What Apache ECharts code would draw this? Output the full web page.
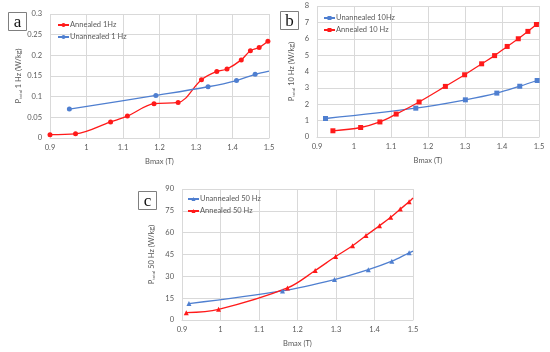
<!DOCTYPE html>
<html><head><meta charset="utf-8">
<script src="https://cdn.jsdelivr.net/npm/echarts@6/dist/echarts.min.js"></script>
<style>html,body{margin:0;padding:0;background:#fff}#c{width:550px;height:352px}</style>
</head><body><div id="c"></div>
<script>
// Panel a: 1 Hz
const aAnnealed = [[0.9,0.008],[0.97,0.01],[1.066,0.039],[1.112,0.053],[1.185,0.083],[1.251,0.086],[1.315,0.141],[1.357,0.161],[1.385,0.167],[1.424,0.189],[1.449,0.211],[1.473,0.219],[1.497,0.234]];
const aUnannealed = [[0.953,0.07],[1.19,0.103],[1.333,0.124],[1.411,0.139],[1.462,0.154],[1.5,0.162]];
// Panel b: 10 Hz
const bUnannealed = [[0.923,1.13],[1.167,1.76],[1.301,2.27],[1.386,2.68],[1.448,3.1],[1.495,3.45]];
const bAnnealed = [[0.943,0.38],[1.018,0.58],[1.07,0.92],[1.114,1.4],[1.176,2.14],[1.247,3.09],[1.299,3.8],[1.345,4.47],[1.38,4.97],[1.414,5.53],[1.444,6.0],[1.47,6.45],[1.493,6.87],[1.5,7.0]];
// Panel c: 50 Hz
const cUnannealed = [[0.918,11.3],[1.161,20.0],[1.296,27.8],[1.384,34.6],[1.445,40.4],[1.49,46.2],[1.5,47.3]];
const cAnnealed = [[0.911,5.0],[0.995,7.3],[1.174,22.0],[1.246,34.0],[1.299,43.6],[1.343,51.0],[1.378,58.0],[1.413,64.8],[1.442,70.6],[1.467,76.2],[1.49,81.2],[1.5,83.8]];
// Axis ticks
const xTicks = {min:0.9, max:1.5, interval:0.1};
const yTicksA = {min:0, max:0.3, interval:0.05};
const yTicksB = {min:0, max:8, interval:1};
const yTicksC = {min:0, max:90, interval:15};
const names = {
  aA:'Annealed 1Hz', aU:'Unannealed 1 Hz',
  bU:'Unannealed 10Hz', bA:'Annealed 10 Hz',
  cU:'Unannealed 50 Hz', cA:'Annealed 50 Hz'
};
const yTitles = ['1 Hz (W/kg)','10 Hz (W/kg)','50 Hz (W/kg)'];

const RED='#ff1a1a', BLUE='#4f7fd0', TXT='#595959', GRID='#d9d9d9';
const FONT='Lato';
const FS=7.5;
const chart = echarts.init(document.getElementById('c'));

function xAx(i){
  return {type:'value', gridIndex:i, min:xTicks.min, max:xTicks.max, interval:xTicks.interval,
    name:'Bmax (T)', nameLocation:'middle', nameGap:20,
    nameTextStyle:{color:TXT,fontSize:FS,fontFamily:FONT},
    axisLine:{show:true,lineStyle:{color:GRID}}, axisTick:{show:false},
    axisLabel:{color:TXT,fontSize:FS,fontFamily:FONT,margin:6,formatter:v=>String(+v.toFixed(1))},
    splitLine:{show:true,lineStyle:{color:GRID,width:1}}};
}
function yAx(i,t,title,dec,gap){
  return {type:'value', gridIndex:i, min:t.min, max:t.max, interval:t.interval,
    name:'P{s|total} '+title, nameLocation:'middle', nameRotate:90, nameGap:gap,
    nameTextStyle:{color:TXT,fontSize:FS,fontFamily:FONT,rich:{s:{fontSize:4.5,color:TXT,fontFamily:FONT,padding:[4,0,0,0]}}},
    axisLine:{show:false}, axisTick:{show:false},
    axisLabel:{color:TXT,fontSize:FS,fontFamily:FONT,margin:8,formatter:v=>String(+v.toFixed(dec))},
    splitLine:{show:true,lineStyle:{color:GRID,width:1}}};
}
function ser(name,data,color,sym,xi,size){
  return {name, type:'line', xAxisIndex:xi, yAxisIndex:xi, smooth:0.35,
    data:data.map((p,k)=> (p[0]===1.5 && k===data.length-1) ? {value:p,symbol:'none'} : p),
    symbol:sym, symbolSize:size, showSymbol:true,
    lineStyle:{color,width:1.3}, itemStyle:{color}, z:5};
}
function legend(x,y,data){
  return {left:x, top:y, orient:'vertical', itemGap:4, itemWidth:11, itemHeight:5,
    data, textStyle:{color:TXT,fontSize:FS,fontFamily:FONT,padding:[0,0,0,-4]}};
}
function box(x,y,w,h,t){
  return {type:'group', left:x, top:y, children:[
    {type:'rect', shape:{x:0,y:0,width:w,height:h}, style:{fill:'#fff',stroke:'#7f7f7f',lineWidth:1}},
    {type:'text', x:w/2, y:h/2+1, style:{text:t, font:'17px "Liberation Serif"', fill:'#111', textAlign:'center', textVerticalAlign:'middle'}}
  ]};
}

chart.setOption({
  animation:false,
  grid:[
    {left:50, top:14, width:219, height:124},
    {left:317, top:6, width:222, height:131},
    {left:182, top:189, width:231, height:131}
  ],
  xAxis:[xAx(0),xAx(1),xAx(2)],
  yAxis:[yAx(0,yTicksA,yTitles[0],2,25), yAx(1,yTicksB,yTitles[1],0,21), yAx(2,yTicksC,yTitles[2],0,26)],
  legend:[
    legend(52,16,[names.aA,names.aU]),
    legend(318,9,[names.bU,names.bA]),
    legend(182,190,[names.cU,names.cA])
  ],
  series:[
    ser(names.aA,aAnnealed,RED,'circle',0,5),
    ser(names.aU,aUnannealed,BLUE,'circle',0,5),
    ser(names.bU,bUnannealed,BLUE,'rect',1,5),
    ser(names.bA,bAnnealed,RED,'rect',1,5),
    ser(names.cU,cUnannealed,BLUE,'triangle',2,5),
    ser(names.cA,cAnnealed,RED,'triangle',2,5)
  ],
  graphic:[box(8,12,18,18,'a'), box(280,11,18,18,'b'), box(138,191,18,18,'c')]
});
</script></body></html>
